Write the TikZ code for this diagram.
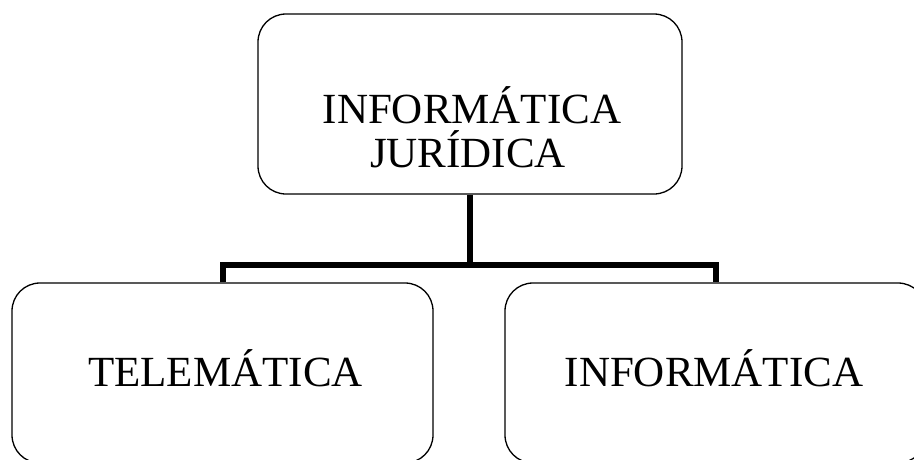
\documentclass[tikz,border=0pt]{standalone}
\usepackage{fontspec}
\setmainfont{Liberation Serif}
\begin{document}
\begin{tikzpicture}[x=1pt,y=-1pt,
  box/.style={draw=black, line width=1.3pt, rounded corners=28pt,
    minimum width=421pt, minimum height=180pt, inner sep=0pt, fill=white},
  boxtext/.style={anchor=base, inner sep=0pt, font=\fontsize{43}{44}\selectfont},
  conn/.style={draw=black, line width=6pt, line join=miter}]
  % page
  \useasboundingbox (0,0) rectangle (914,459);
  \clip (0,0) rectangle (914,459);

  % boxes
  \node[box, minimum width=424pt] (root) at (470,104) {};
  \node[box] (tele) at (222.5,373) {};
  \node[box] (info) at (715.5,373) {};

  % labels
  \node[boxtext] (rootA) at (472,123) {INFORMÁTICA};
  \node[boxtext] (rootB) at (468,167) {JURÍDICA};
  \node[boxtext] (teleT) at (225.5,386) {TELEMÁTICA};
  \node[boxtext] (infoT) at (714,386) {INFORMÁTICA};

  % tree connectors
  \coordinate (bus) at (469,265);
  \draw[conn] (root.south) -- (root.south |- bus);
  \draw[conn] (tele.north) -- (tele.north |- bus) -- (info.north |- bus) -- (info.north);
\end{tikzpicture}
\end{document}
